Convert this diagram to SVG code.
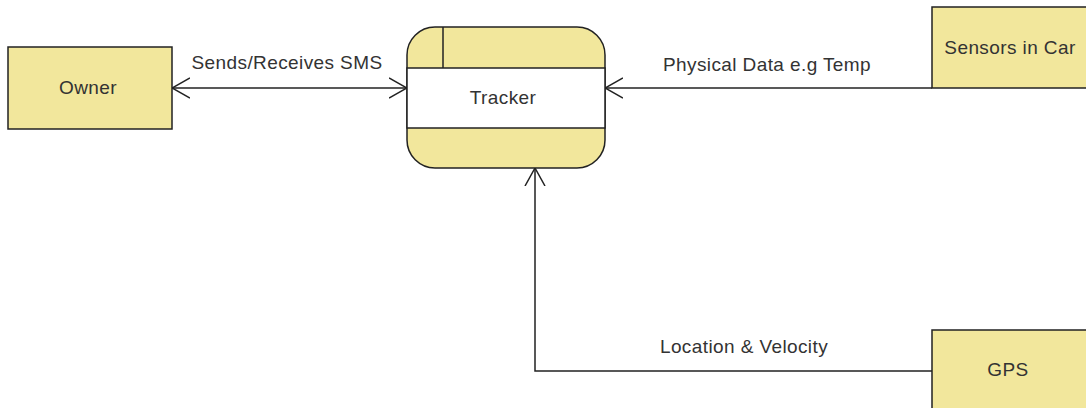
<svg xmlns="http://www.w3.org/2000/svg" width="1086" height="408" viewBox="0 0 1086 408">
<style>
.box{fill:#f2e79c;stroke:#222;stroke-width:1.5}
.ln{fill:none;stroke:#222;stroke-width:1.5}
.t{font-family:"Liberation Sans",Arial,sans-serif;font-size:19px;letter-spacing:0.4px;fill:#333;text-anchor:middle}
</style>
<defs>
<marker id="open" viewBox="0 0 18 22" refX="18" refY="11" markerWidth="18" markerHeight="22" markerUnits="userSpaceOnUse" orient="auto-start-reverse">
<path d="M0,1 L18,11 L0,21" fill="none" stroke="#222" stroke-width="1.5"/>
</marker>
</defs>
<rect width="1086" height="408" fill="#fff"/>
<g id="connectors">
<path class="ln" d="M172,88 L407,88" marker-start="url(#open)" marker-end="url(#open)"/>
<path class="ln" d="M932,88 L605,88" marker-end="url(#open)"/>
<path class="ln" d="M932,371 L535,371 L535,168" marker-end="url(#open)"/>
<text class="t" x="287" y="69">Sends/Receives SMS</text>
<text class="t" x="767" y="71">Physical Data e.g Temp</text>
<text class="t" x="744" y="353">Location &amp; Velocity</text>
</g>
<g id="owner">
<rect class="box" x="8" y="47" width="164" height="82"/>
<text class="t" x="88" y="94">Owner</text>
</g>
<g id="tracker">
<rect class="box" x="407" y="27" width="198" height="141" rx="28" ry="28"/>
<rect x="407" y="68" width="198" height="60" fill="#fff" stroke="#222" stroke-width="1.5"/>
<line class="ln" x1="443" y1="27" x2="443" y2="68"/>
<text class="t" x="503" y="104">Tracker</text>
</g>
<g id="sensors">
<rect class="box" x="932" y="7" width="170" height="81"/>
<text class="t" x="1010" y="54">Sensors in Car</text>
</g>
<g id="gps">
<rect class="box" x="932" y="330" width="170" height="90"/>
<text class="t" x="1008" y="376">GPS</text>
</g>
</svg>
